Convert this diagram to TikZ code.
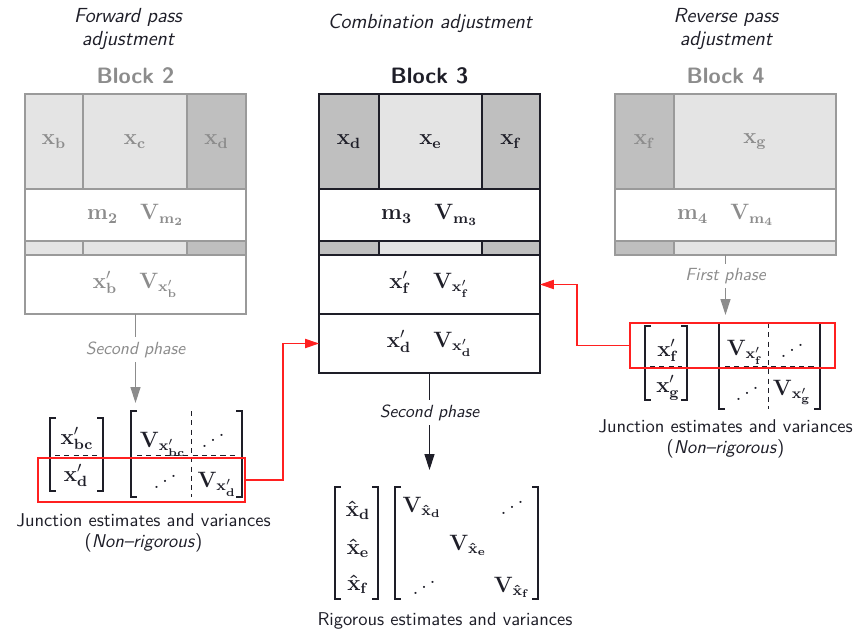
\documentclass[tikz,border=0pt]{standalone}
\usepackage{graphicx}
\usetikzlibrary{arrows.meta}

% one drawing unit
\def\pxl{0.54pt}

\definecolor{lightfill}{HTML}{E4E4E4}
\definecolor{darkfill}{HTML}{BFBFBF}
\definecolor{sidegray}{HTML}{8C8C8C}
\definecolor{sideline}{HTML}{9A9A9A}
\definecolor{inkdark}{HTML}{1E1E28}
\definecolor{linkred}{HTML}{FF2020}

% anti-diagonal dots
\newcommand\adots{\mathinner{\reflectbox{$\ddots$}}}

\begin{document}
\begin{tikzpicture}[x=\pxl, y=-\pxl,
  cellsz/.style 2 args={minimum width=#1*\pxl, minimum height=#2*\pxl},
  cell/.style={anchor=north west, inner sep=0pt, outer sep=0pt, font=\large},
  sidecell/.style={cell, draw=sideline, line width=0.7pt, text=sidegray},
  maincell/.style={cell, draw=inkdark, line width=0.9pt, text=inkdark},
  sideframe/.style={anchor=north west, inner sep=0pt, outer sep=0pt, draw=sideline, line width=0.7pt},
  mainframe/.style={anchor=north west, inner sep=0pt, outer sep=0pt, draw=inkdark, line width=0.9pt},
  heading/.style={font=\fontsize{11}{12.4}\selectfont\sffamily\itshape, align=center, text=inkdark},
  blocktitle/.style={font=\large\sffamily\bfseries},
  caption/.style={font=\fontsize{10}{11.5}\selectfont\sffamily, align=center, text=inkdark, inner sep=1pt},
  phase/.style={font=\fontsize{9.5}{11}\selectfont\sffamily\itshape, fill=white, inner sep=2.5pt},
  ent/.style={font=\large, inner sep=0pt, text=inkdark},
  brak/.style={draw=inkdark, line width=0.6pt},
  split/.style={draw=inkdark, line width=0.5pt, dash pattern=on 2.8pt off 2.2pt},
  redbox/.style={anchor=north west, inner sep=0pt, outer sep=0pt, draw=linkred, line width=0.6pt},
  redlink/.style={draw=linkred, line width=0.6pt, -{Triangle[length=7.5pt, width=5pt]}},
  grayflow/.style={draw=sidegray, line width=0.6pt, -{Triangle[length=8.6pt, width=5.4pt]}, fill=sidegray},
  blackflow/.style={draw=inkdark, line width=0.6pt, -{Triangle[length=8.6pt, width=5.4pt]}, fill=inkdark}
]
\useasboundingbox (0,0) rectangle (865,642);

% ---------- headings ----------
\node[heading] (h2) at (128,29) {Forward pass\\adjustment};
\node[heading] (h3) at (430,23) {Combination adjustment};
\node[heading] (h4) at (726,29) {Reverse pass\\adjustment};

\node[blocktitle, text=sidegray] (t2) at (135.5,76) {Block 2};
\node[blocktitle, text=inkdark] (t3) at (429.5,76) {Block 3};
\node[blocktitle, text=sidegray] (t4) at (725.5,76) {Block 4};

% ---------- Block 2 ----------
\node[sidecell, fill=lightfill, cellsz={58}{95}] (b2-xb) at (25,94) {$\mathbf{x_b}$};
\node[sidecell, fill=lightfill, cellsz={104}{95}] (b2-xc) at (83,94) {$\mathbf{x_c}$};
\node[sidecell, fill=darkfill, cellsz={59}{95}] (b2-xd) at (187,94) {$\mathbf{x_d}$};
\node[sidecell, fill=white, cellsz={221}{52}] (b2-m) at (25,189) {$\mathbf{m_2}\quad\mathbf{V_{m_2}}$};
\node[sidecell, fill=lightfill, cellsz={58}{14}] (b2-s1) at (25,241) {};
\node[sidecell, fill=lightfill, cellsz={104}{14}] (b2-s2) at (83,241) {};
\node[sidecell, fill=darkfill, cellsz={59}{14}] (b2-s3) at (187,241) {};
\node[sidecell, fill=white, cellsz={221}{59}] (b2-xp) at (25,255) {$\mathbf{x'_b}\quad\mathbf{V_{x'_b}}$};
\node[sideframe, cellsz={221}{220}] (b2) at (25,94) {};

% ---------- Block 3 ----------
\node[maincell, fill=darkfill, cellsz={60}{95}] (b3-xd) at (319,94) {$\mathbf{x_d}$};
\node[maincell, fill=lightfill, cellsz={103}{95}] (b3-xe) at (379,94) {$\mathbf{x_e}$};
\node[maincell, fill=darkfill, cellsz={58}{95}] (b3-xf) at (482,94) {$\mathbf{x_f}$};
\node[maincell, fill=white, cellsz={221}{52}] (b3-m) at (319,189) {$\mathbf{m_3}\quad\mathbf{V_{m_3}}$};
\node[maincell, fill=darkfill, cellsz={60}{14}] (b3-s1) at (319,241) {};
\node[maincell, fill=lightfill, cellsz={103}{14}] (b3-s2) at (379,241) {};
\node[maincell, fill=darkfill, cellsz={58}{14}] (b3-s3) at (482,241) {};
\node[maincell, fill=white, cellsz={221}{59}] (b3-pf) at (319,255) {$\mathbf{x'_f}\quad\mathbf{V_{x'_f}}$};
\node[maincell, fill=white, cellsz={221}{59}] (b3-pd) at (319,314) {$\mathbf{x'_d}\quad\mathbf{V_{x'_d}}$};
\node[mainframe, cellsz={221}{279}] (b3) at (319,94) {};

% ---------- Block 4 ----------
\node[sidecell, fill=darkfill, cellsz={59}{95}] (b4-xf) at (615,94) {$\mathbf{x_f}$};
\node[sidecell, fill=lightfill, cellsz={162}{95}] (b4-xg) at (674,94) {$\mathbf{x_g}$};
\node[sidecell, fill=white, cellsz={221}{52}] (b4-m) at (615,189) {$\mathbf{m_4}\quad\mathbf{V_{m_4}}$};
\node[sidecell, fill=darkfill, cellsz={59}{14}] (b4-s1) at (615,241) {};
\node[sidecell, fill=lightfill, cellsz={162}{14}] (b4-s2) at (674,241) {};
\node[sideframe, cellsz={221}{161}] (b4) at (615,94) {};

% ---------- junction result of block 2 ----------
\node[ent, anchor=base] (l-a1) at (77,444) {$\mathbf{x'_{bc}}$};
\node[ent, anchor=base] (l-a2) at (76,481) {$\mathbf{x'_d}$};
\node[ent, anchor=base] (l-v11) at (163,447) {$\mathbf{V_{x'_{bc}}}$};
\node[ent] (l-v12) at (213,435) {$\adots$};
\node[ent] (l-v21) at (165,476) {$\adots$};
\node[ent, anchor=base] (l-v22) at (217,487) {$\mathbf{V_{x'_d}}$};
\draw[brak] (56,418) -- (50,418) -- (50,491) -- (56,491);
\draw[brak] (97,418) -- (103,418) -- (103,491) -- (97,491);
\draw[brak] (137,411) -- (131,411) -- (131,497) -- (137,497);
\draw[brak] (236,411) -- (242,411) -- (242,497) -- (236,497);
\draw[split] (55,455) -- (100,455);
\draw[split] (137,455) -- (237,455);
\draw[split] (191,411) -- (191,497);
\node[redbox, cellsz={207}{44}] (lbox) at (38,458) {};
\node[caption] (lcap) at (143.5,533) {Junction estimates and variances\\(\textit{Non--rigorous})};

% ---------- junction result of block 4 ----------
\node[ent, anchor=base] (r-a1) at (668,356) {$\mathbf{x'_f}$};
\node[ent, anchor=base] (r-a2) at (668,392) {$\mathbf{x'_g}$};
\node[ent, anchor=base] (r-v11) at (745,355) {$\mathbf{V_{x'_f}}$};
\node[ent] (r-v12) at (792,345) {$\adots$};
\node[ent] (r-v21) at (747,388) {$\adots$};
\node[ent, anchor=base] (r-v22) at (792,395) {$\mathbf{V_{x'_g}}$};
\draw[brak] (651,326) -- (645,326) -- (645,400) -- (651,400);
\draw[brak] (681,326) -- (687,326) -- (687,400) -- (681,400);
\draw[brak] (725,323) -- (719,323) -- (719,409) -- (725,409);
\draw[brak] (814,323) -- (820,323) -- (820,409) -- (814,409);
\draw[split] (650,366) -- (682,366);
\draw[split] (725,366) -- (815,366);
\draw[split] (768,323) -- (768,409);
\node[redbox, cellsz={205}{45}] (rbox) at (630,323) {};
\node[caption] (rcap) at (725.5,439) {Junction estimates and variances\\(\textit{Non--rigorous})};

% ---------- rigorous result ----------
\node[ent, anchor=base] (c-a1) at (358,516) {$\mathbf{\hat{x}_d}$};
\node[ent, anchor=base] (c-a2) at (358,554) {$\mathbf{\hat{x}_e}$};
\node[ent, anchor=base] (c-a3) at (358,590) {$\mathbf{\hat{x}_f}$};
\node[ent, anchor=base] (c-v11) at (422,512) {$\mathbf{V_{\hat{x}_d}}$};
\node[ent] (c-v13) at (512,502) {$\adots$};
\node[ent, anchor=base] (c-v22) at (468,550) {$\mathbf{V_{\hat{x}_e}}$};
\node[ent] (c-v31) at (424,582) {$\adots$};
\node[ent, anchor=base] (c-v33) at (512,592) {$\mathbf{V_{\hat{x}_f}}$};
\draw[brak] (341,487) -- (335,487) -- (335,599) -- (341,599);
\draw[brak] (372,487) -- (378,487) -- (378,599) -- (372,599);
\draw[brak] (401,487) -- (395,487) -- (395,599) -- (401,599);
\draw[brak] (532,487) -- (538,487) -- (538,599) -- (532,599);
\node[caption] (ccap) at (445,621) {Rigorous estimates and variances};

% ---------- flow between stages ----------
\coordinate (tip2) at (135.5,403);
\coordinate (tip3) at (429.5,470);
\coordinate (tip4) at (725.5,315);
\draw[grayflow] (b2.south) -- node[phase, text=sidegray, pos=0.40] {Second phase} (tip2);
\draw[blackflow] (b3.south) -- node[phase, text=inkdark, pos=0.41] {Second phase} (tip3);
\draw[grayflow] (b4.south) -- node[phase, text=sidegray, pos=0.35] {First phase} (tip4);

\draw[redlink] (lbox.east) -- ++(38,0) |- (b3-pd.west);
\draw[redlink] (rbox.west) -- ++(-53,0) |- (b3-pf.east);
\end{tikzpicture}
\end{document}
